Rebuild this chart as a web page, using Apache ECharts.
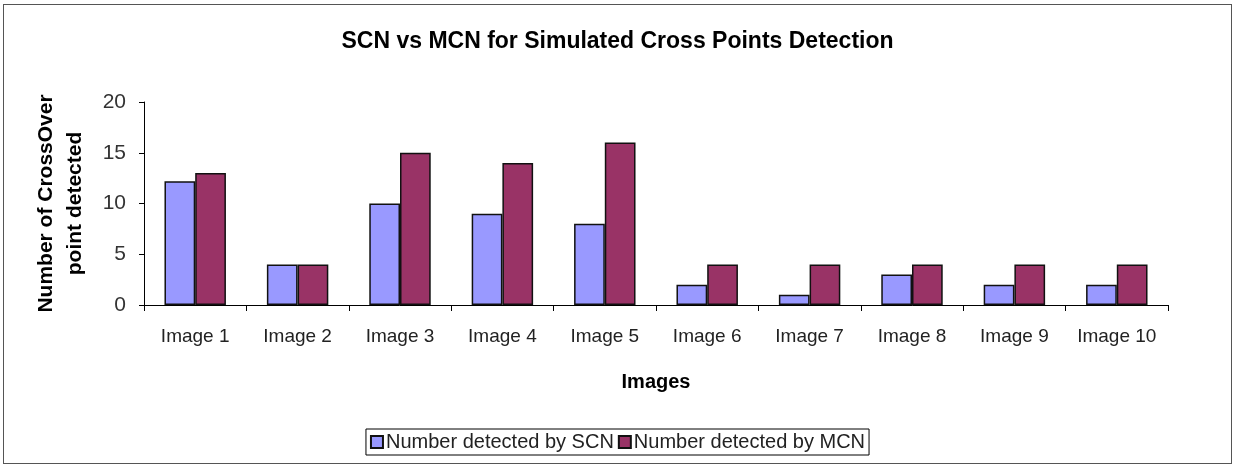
<!DOCTYPE html>
<html>
<head>
<meta charset="utf-8">
<script src="https://cdn.jsdelivr.net/npm/echarts@6/dist/echarts.min.js"></script>
<style>
  html, body { margin: 0; padding: 0; background: #fff; }
  #chart { position: absolute; left: 3px; top: 4px; width: 1227px; height: 458px; border: 1px solid #555; }
</style>
</head>
<body>
<div id="chart"></div>
<script>
const categories = ['Image 1', 'Image 2', 'Image 3', 'Image 4', 'Image 5', 'Image 6', 'Image 7', 'Image 8', 'Image 9', 'Image 10']
const scnValues = [12.2, 4, 10, 9, 8, 2, 1, 3, 2, 2]
const mcnValues = [13, 4, 15, 14, 16, 4, 4, 4, 4, 4]
const yTicks = [0, 5, 10, 15, 20]

const font = 'Liberation Sans, Arial, sans-serif'
const chart = echarts.init(document.getElementById('chart'))
chart.setOption({
  animation: false,
  title: {
    text: 'SCN vs MCN for Simulated Cross Points Detection',
    left: 'center',
    top: 20,
    textStyle: { fontFamily: font, fontSize: 23, fontWeight: 'bold', color: '#000' }
  },
  legend: {
    bottom: 8,
    left: 'center',
    itemWidth: 12,
    itemHeight: 12,
    itemGap: 4,
    padding: [3, 4],
    borderColor: '#000',
    borderWidth: 1,
    icon: 'rect',
    textStyle: { fontFamily: font, fontSize: 20, color: '#222', padding: [0, 0, 0, -2] }
  },
  grid: { left: 140, right: 63, top: 97, bottom: 158 },
  xAxis: {
    type: 'category',
    data: categories,
    name: 'Images',
    nameLocation: 'middle',
    nameGap: 67,
    nameTextStyle: { fontFamily: font, fontSize: 20, fontWeight: 'bold', color: '#000' },
    axisLine: { lineStyle: { color: '#000', width: 1 } },
    axisTick: { show: true, length: 6, lineStyle: { color: '#000' } },
    axisLabel: { fontFamily: font, fontSize: 19, color: '#222', margin: 22, interval: 0 }
  },
  yAxis: {
    type: 'value',
    min: yTicks[0],
    max: yTicks[yTicks.length - 1],
    interval: 5,
    name: 'Number of CrossOver\npoint detected',
    nameLocation: 'middle',
    nameGap: 54,
    nameTextStyle: { fontFamily: font, fontSize: 21, fontWeight: 'bold', color: '#000', lineHeight: 29 },
    axisLine: { show: true, lineStyle: { color: '#000', width: 1 } },
    axisTick: { show: true, length: 5, lineStyle: { color: '#000' } },
    splitLine: { show: false },
    axisLabel: { fontFamily: font, fontSize: 21, color: '#333', margin: 18 }
  },
  series: [
    {
      name: 'Number detected by SCN',
      type: 'bar',
      data: scnValues,
      barGap: '0%',
      barCategoryGap: '40%',
      itemStyle: { color: '#9999FF', borderColor: '#111', borderWidth: 1.5 }
    },
    {
      name: 'Number detected by MCN',
      type: 'bar',
      data: mcnValues,
      barGap: '0%',
      barCategoryGap: '40%',
      itemStyle: { color: '#993366', borderColor: '#111', borderWidth: 1.5 }
    }
  ]
})
</script>
</body>
</html>
